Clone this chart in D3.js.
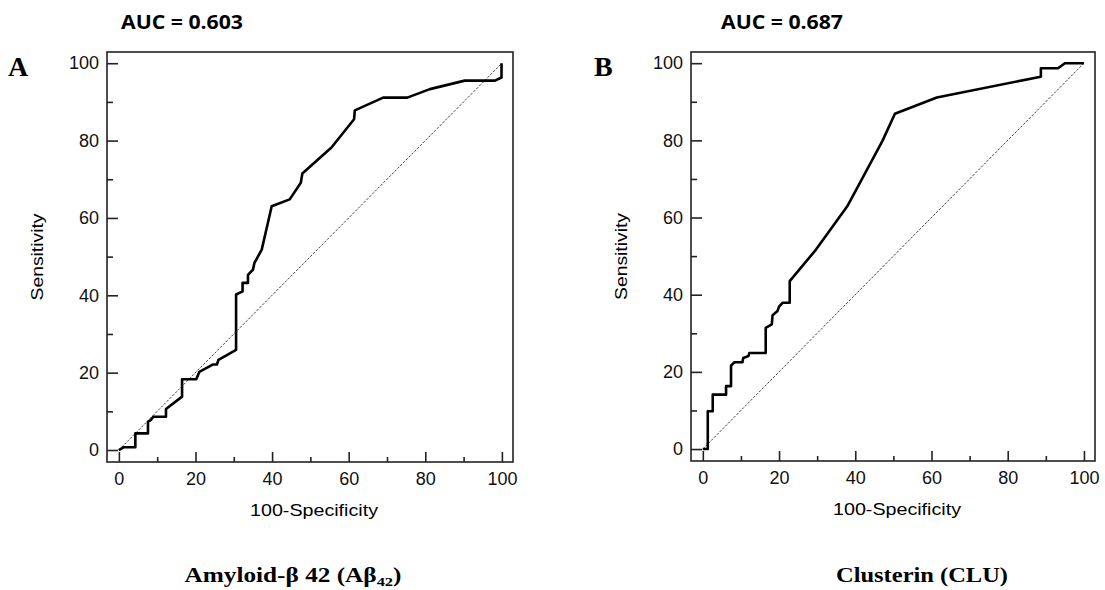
<!DOCTYPE html>
<html>
<head>
<meta charset="utf-8">
<script src="https://cdn.jsdelivr.net/npm/d3@7"></script>
<style>
  body { margin: 0; background: #fff; }
  svg { display: block; }
  .tick text { font-family: "Liberation Sans", Arial, sans-serif; font-size: 18px; fill: #111; }
  .tick line { stroke: #222; stroke-width: 1.6px; }
</style>
</head>
<body>
<div id="chartDiv"></div>
<script>
// ROC curve A: Amyloid-beta 42
var fprA = [0, 1.2, 4.3, 4.3, 7.6, 7.6, 8.4, 9.0, 12.3, 12.3, 16.5, 16.5, 20.2, 21.0, 24.5, 25.6, 26.0, 30.6, 30.6, 32.3, 32.3, 33.7, 33.7, 35.0, 35.4, 37.3, 39.9, 44.6, 47.5, 47.9, 55.5, 61.4, 61.6, 69.0, 75.3, 81.2, 90.3, 98.2, 99.9, 99.9];
var tprA = [0, 0.7, 0.7, 4.3, 4.3, 7.3, 7.8, 8.6, 8.6, 10.6, 13.8, 18.3, 18.3, 20.2, 22.1, 22.1, 23.3, 25.9, 40.2, 41.0, 43.2, 43.2, 45.3, 46.6, 48.4, 51.8, 63.0, 64.8, 69.1, 71.5, 78.2, 85.5, 87.8, 91.1, 91.1, 93.3, 95.5, 95.5, 96.3, 100];

// ROC curve B: Clusterin
var fprB = [0, 1.3, 1.3, 2.6, 2.6, 6.1, 6.1, 7.4, 7.4, 8.3, 10.4, 10.6, 12.0, 12.2, 16.5, 16.5, 18.1, 18.3, 19.6, 20.0, 20.9, 22.8, 22.8, 29.7, 37.9, 47.1, 50.4, 61.4, 88.7, 88.7, 93.2, 95.0, 100];
var tprB = [0, 0, 9.8, 9.8, 14.1, 14.1, 16.3, 16.3, 21.6, 22.5, 22.5, 23.6, 24.1, 24.9, 24.9, 31.4, 32.3, 34.7, 35.8, 36.9, 37.9, 37.9, 43.5, 51.7, 62.9, 79.8, 86.9, 91.1, 96.5, 98.7, 98.7, 100, 100];

var majorTicks = [0, 20, 40, 60, 80, 100];
var minorTicks = [10, 30, 50, 70, 90];
var aucLabels = ["AUC = 0.603", "AUC = 0.687"];
var panelLetters = ["A", "B"];
var xAxisLabelHeader = "100-Specificity";
var yAxisLabelHeader = "Sensitivity";

var width = 1105;
var height = 590;

var chart = d3.select("#chartDiv").append("svg")
  .attr("width", width)
  .attr("height", height);

function drawPanel(p) {
  var xScale = d3.scaleLinear().domain([-3.1, 102.9]).range([p.left, p.right]);
  var yScale = d3.scaleLinear().domain([-3.1, 102.9]).range([p.bottom, p.top]);

  var g = chart.append("g");

  // minor ticks
  g.append("g")
    .attr("transform", "translate(0," + p.bottom + ")")
    .call(d3.axisBottom(xScale).tickValues(minorTicks).tickSize(-5).tickFormat(""))
    .call(function(s) { s.select(".domain").remove(); });
  g.append("g")
    .attr("transform", "translate(" + p.left + ",0)")
    .call(d3.axisLeft(yScale).tickValues(minorTicks).tickSize(-6).tickFormat(""))
    .call(function(s) { s.select(".domain").remove(); });

  // major ticks with labels
  g.append("g")
    .attr("transform", "translate(0," + p.bottom + ")")
    .call(d3.axisBottom(xScale).tickValues(majorTicks).tickSize(-10).tickPadding(10).tickFormat(d3.format("d")))
    .call(function(s) { s.select(".domain").remove(); });
  g.append("g")
    .attr("transform", "translate(" + p.left + ",0)")
    .call(d3.axisLeft(yScale).tickValues(majorTicks).tickSize(-11).tickPadding(8).tickFormat(d3.format("d")))
    .call(function(s) { s.select(".domain").remove(); });

  // diagonal reference line
  g.append("line")
    .attr("x1", xScale(0)).attr("y1", yScale(0))
    .attr("x2", xScale(100)).attr("y2", yScale(100))
    .attr("stroke", "#444")
    .attr("stroke-width", 1)
    .attr("stroke-dasharray", "2.5,1.5");

  // ROC curve
  var line = d3.line()
    .x(function(d, i) { return xScale(p.fpr[i]); })
    .y(function(d, i) { return yScale(p.tpr[i]); });
  g.append("path")
    .datum(p.fpr)
    .attr("d", line)
    .attr("fill", "none")
    .attr("stroke", "#000")
    .attr("stroke-width", 2.6)
    .attr("stroke-linejoin", "round");

  // frame
  g.append("rect")
    .attr("x", p.left).attr("y", p.top)
    .attr("width", p.right - p.left).attr("height", p.bottom - p.top)
    .attr("fill", "none")
    .attr("stroke", "#222")
    .attr("stroke-width", 1.6);

  // axis titles
  g.append("text")
    .attr("x", (p.left + p.right) / 2 + 4)
    .attr("y", p.bottom + 54)
    .attr("text-anchor", "middle")
    .attr("textLength", 128)
    .attr("lengthAdjust", "spacingAndGlyphs")
    .style("font-family", "Liberation Sans, Arial, sans-serif")
    .style("font-size", "17px")
    .text(xAxisLabelHeader);
  g.append("text")
    .attr("transform", "translate(" + (p.left - 64) + "," + ((p.top + p.bottom) / 2) + ") rotate(-90)")
    .attr("text-anchor", "middle")
    .attr("textLength", 87)
    .attr("lengthAdjust", "spacingAndGlyphs")
    .style("font-family", "Liberation Sans, Arial, sans-serif")
    .style("font-size", "17px")
    .text(yAxisLabelHeader);

  // AUC label
  g.append("text")
    .attr("x", p.aucX)
    .attr("y", 29)
    .attr("textLength", 122)
    .attr("lengthAdjust", "spacingAndGlyphs")
    .style("font-family", "Open Sans, sans-serif")
    .style("font-weight", "bold")
    .style("font-size", "20px")
    .text(p.auc);

  // panel letter
  g.append("text")
    .attr("x", p.letterX)
    .attr("y", 76)
    .style("font-family", "Liberation Serif, Times New Roman, serif")
    .style("font-weight", "bold")
    .style("font-size", "28px")
    .text(p.letter);

  // marker name below
  var t = g.append("text")
    .attr("x", p.captionX)
    .attr("y", 582)
    .attr("text-anchor", "middle")
    .attr("textLength", p.captionW)
    .attr("lengthAdjust", "spacingAndGlyphs")
    .style("font-family", "Liberation Serif, Times New Roman, serif")
    .style("font-weight", "bold")
    .style("font-size", "20px");
  p.caption(t);
}

drawPanel({
  left: 107, right: 513, top: 52, bottom: 462,
  fpr: fprA, tpr: tprA, auc: aucLabels[0], letter: panelLetters[0],
  aucX: 121, letterX: 8,
  captionX: 293, captionW: 217,
  caption: function(t) {
    t.append("tspan").text("Amyloid-\u03b2 42 (A\u03b2");
    t.append("tspan").attr("dy", 4).style("font-size", "13px").text("42");
    t.append("tspan").attr("dy", -4).text(")");
  }
});

drawPanel({
  left: 691, right: 1095, top: 52, bottom: 461,
  fpr: fprB, tpr: tprB, auc: aucLabels[1], letter: panelLetters[1],
  aucX: 721, letterX: 594,
  captionX: 922, captionW: 172,
  caption: function(t) {
    t.text("Clusterin (CLU)");
  }
});
</script>
</body>
</html>
